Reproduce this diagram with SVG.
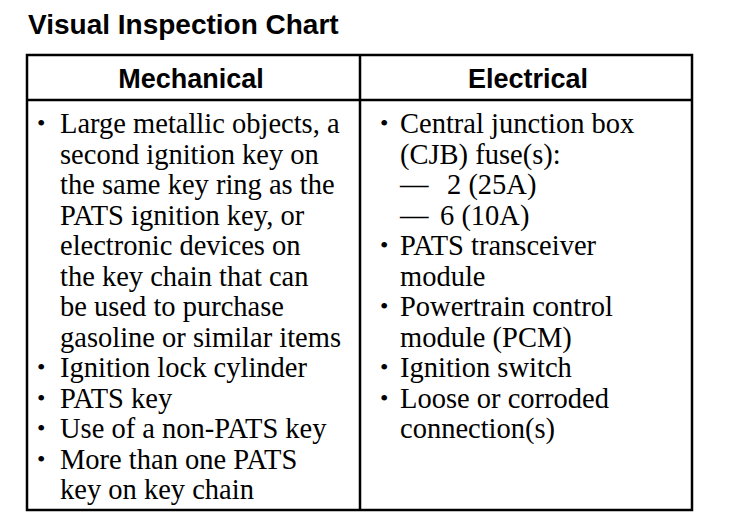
<svg xmlns="http://www.w3.org/2000/svg" width="736" height="532" viewBox="0 0 736 532">
<style>
.title{font-family:"Liberation Sans",Arial,sans-serif;font-weight:bold;font-size:28px;fill:#000}
.hdr{font-family:"Liberation Sans",Arial,sans-serif;font-weight:bold;font-size:27px;fill:#000}
.body{font-family:"Liberation Serif","Times New Roman",serif;font-size:28.5px;fill:#000}
.bul{font-family:"Liberation Serif","Times New Roman",serif;font-size:24px;fill:#000}
.ln{stroke:#000;stroke-width:2.5;fill:none}
</style>
<rect width="736" height="532" fill="#fff"/>
<text class="title" x="28" y="34">Visual Inspection Chart</text>
<g id="table">
<rect class="ln" x="27" y="55" width="665" height="455"/>
<line class="ln" x1="27" y1="100" x2="692" y2="100"/>
<line class="ln" x1="360" y1="55" x2="360" y2="510"/>
</g>
<g id="mechanical">
<text class="hdr" x="191" y="88" text-anchor="middle">Mechanical</text>
<g class="bul">
<text x="37" y="131">•</text>
<text x="37" y="375">•</text>
<text x="37" y="405.5">•</text>
<text x="37" y="436">•</text>
<text x="37" y="466.5">•</text>
</g>
<g class="body">
<text x="60" y="133">Large metallic objects, a</text>
<text x="60" y="163.5">second ignition key on</text>
<text x="60" y="194">the same key ring as the</text>
<text x="60" y="224.5">PATS ignition key, or</text>
<text x="60" y="255">electronic devices on</text>
<text x="60" y="285.5">the key chain that can</text>
<text x="60" y="316">be used to purchase</text>
<text x="60" y="346.5">gasoline or similar items</text>
<text x="60" y="377">Ignition lock cylinder</text>
<text x="60" y="407.5">PATS key</text>
<text x="60" y="438">Use of a non-PATS key</text>
<text x="60" y="468.5">More than one PATS</text>
<text x="60" y="499">key on key chain</text>
</g>
</g>
<g id="electrical">
<text class="hdr" x="528" y="88" text-anchor="middle">Electrical</text>
<g class="bul">
<text x="380" y="131">•</text>
<text x="380" y="253">•</text>
<text x="380" y="314">•</text>
<text x="380" y="375">•</text>
<text x="380" y="405.5">•</text>
</g>
<g class="body">
<text x="400" y="133">Central junction box</text>
<text x="400" y="163.5">(CJB) fuse(s):</text>
<text x="400" y="194">—</text>
<text x="447" y="194">2 (25A)</text>
<text x="400" y="224.5">—</text>
<text x="440" y="224.5">6 (10A)</text>
<text x="400" y="255">PATS transceiver</text>
<text x="400" y="285.5">module</text>
<text x="400" y="316">Powertrain control</text>
<text x="400" y="346.5">module (PCM)</text>
<text x="400" y="377">Ignition switch</text>
<text x="400" y="407.5">Loose or corroded</text>
<text x="400" y="438">connection(s)</text>
</g>
</g>
</svg>
